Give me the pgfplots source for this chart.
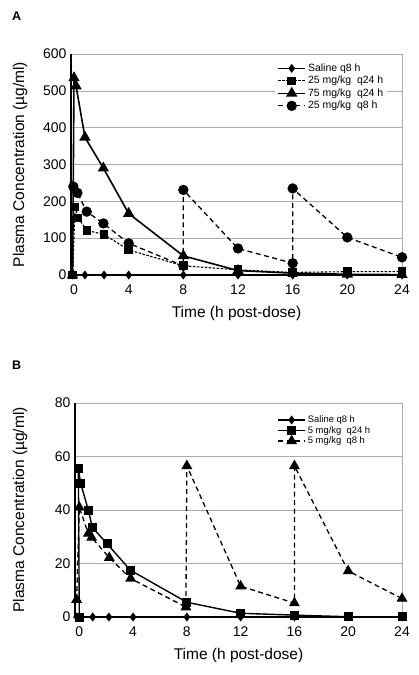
\documentclass[border=0pt]{standalone}
\usepackage{fontspec}
\setmainfont{Liberation Sans}
\usepackage{pgfplots}
\pgfplotsset{compat=1.18}
\pgfplotsset{
  panel/.style={
    scale only axis, anchor=south west, clip=false,
    xmax=24, ymin=0,
    xtick={0,4,8,12,16,20,24},
    tick style={draw=none},
    ymajorgrids, grid style={gray!65, line width=0.6bp},
    axis line style={gray!65, line width=0.6bp},
    tick label style={font=\fontsize{14bp}{16bp}\selectfont},
    xticklabel style={yshift=-6bp},
    yticklabel style={xshift=-1bp},
    label style={font=\fontsize{15.5bp}{17bp}\selectfont},
    /pgf/number format/assume math mode=true,
    xlabel={Time (h post-dose)},
    ylabel={Plasma Concentration (µg/ml)},
    legend cell align=left,
    legend image code/.code={\draw[mark repeat=2,mark phase=2,##1] plot coordinates {(0bp,0bp) (13.5bp,0bp) (27bp,0bp)};},
  },
  sal/.style={black, line width=1.6bp, mark=diamond*, mark size=3.2bp, mark options={solid}},
  sqd/.style={black, dash pattern=on 2.5bp off 1.5bp, line width=1.1bp, mark=square*, mark size=3.8bp, mark options={solid}},
  sqs/.style={black, line width=1.4bp, mark=square*, mark size=3.8bp, mark options={solid}},
  tri/.style={black, line width=1.6bp, mark=triangle*, mark size=5bp, mark options={solid}},
  trid/.style={black, dash pattern=on 5bp off 3.5bp, line width=1.3bp, mark=triangle*, mark size=5bp, mark options={solid}},
  circ/.style={black, dash pattern=on 5bp off 3.5bp, line width=1.3bp, mark=*, mark size=4.5bp, mark options={solid}},
}
\begin{document}
\begin{tikzpicture}
\path[use as bounding box] (0,0) rectangle (419bp,-675bp);
\node[anchor=north west, inner sep=0pt, font=\bfseries\fontsize{12.5bp}{14bp}\selectfont] at (12bp,-12bp) {A};
\node[anchor=north west, inner sep=0pt, font=\bfseries\fontsize{12.5bp}{14bp}\selectfont] at (12bp,-361bp) {B};

% ---------------- Panel A
\begin{axis}[panel,
  at={(71bp,-275bp)}, width=331bp, height=221bp,
  xmin=-0.22, ymax=600, ytick={0,100,200,300,400,500,600},
  xlabel style={at={(axis description cs:0.5,-0.176)}, anchor=center},
  ylabel style={at={(axis description cs:-0.154,0.5)}, anchor=center},
  legend style={at={(axis description cs:0.617,0.97)}, anchor=north west,
    fill=white, draw=none, inner xsep=2bp, inner ysep=1bp, row sep=-0.6bp,
    font=\fontsize{10.5bp}{12bp}\selectfont},
]
\addplot[sal] coordinates {(-0.1,0) (0.8,0) (2.2,0) (4,0) (8,0) (12,0) (16,0) (20,0) (24,0)};
\addlegendentry{Saline q8 h}
\addplot[sqd] coordinates {(-0.1,0) (0.08,185) (0.3,155) (0.95,121) (2.2,110) (4,68) (8,25) (12,14) (16,7) (20,9) (24,9)};
\addlegendentry{25 mg/kg\ \ q24 h}
\addplot[tri] coordinates {(-0.1,0) (0.0,535) (0.15,513) (0.8,374) (2.15,290) (4,167) (8,52) (12,12) (16,5) (20,2) (24,1)};
\addlegendentry{75 mg/kg\ \ q24 h}
\addplot[circ] coordinates {(-0.05,240) (0.25,223) (0.93,172) (2.15,140) (4,86) (8,25) (8,231) (12,72) (16,32) (16,235) (20,102) (24,48)};
\addlegendentry{25 mg/kg\ \ q8 h}
\draw[black, line width=1.2bp] (rel axis cs:0,0) -- (rel axis cs:0,1);
\end{axis}

% ---------------- Panel B
\begin{axis}[panel,
  at={(75bp,-617bp)}, width=327bp, height=214bp,
  xmin=-0.32, ymax=80, ytick={0,20,40,60,80},
  xlabel style={at={(axis description cs:0.5,-0.182)}, anchor=center},
  ylabel style={at={(axis description cs:-0.168,0.5)}, anchor=center},
  legend style={at={(axis description cs:0.612,0.955)}, anchor=north west,
    fill=white, draw=none, inner xsep=2bp, inner ysep=1bp, row sep=-1.8bp,
    font=\fontsize{9.4bp}{11bp}\selectfont},
]
\addplot[sal] coordinates {(-0.2,0) (0,0) (1,0) (2.2,0) (4,0) (8,0) (12,0) (16,0) (20,0) (24,0)};
\addlegendentry{Saline q8 h}
\addplot[sqs] coordinates {(0,0) (-0.07,55.7) (0.1,50) (0.67,40) (0.97,33.5) (2.08,27.3) (3.8,17.5) (8,5.5) (12,1.4) (16,0.7) (20,0.1) (24,0.1)};
\addlegendentry{5 mg/kg\ \ q24 h}
\addplot[trid] coordinates {(-0.2,6.5) (0,41) (0.67,31.2) (0.92,29.7) (2.23,22.2) (3.82,14.4) (7.93,3.7) (8,56.5) (12,11.5) (16,5.2) (16,56.5) (20,17.2) (24,6.9)};
\addlegendentry{5 mg/kg\ \ q8 h}
\draw[black, line width=1.2bp] (rel axis cs:0,0) -- (rel axis cs:0,1);
\end{axis}
\end{tikzpicture}
\end{document}
